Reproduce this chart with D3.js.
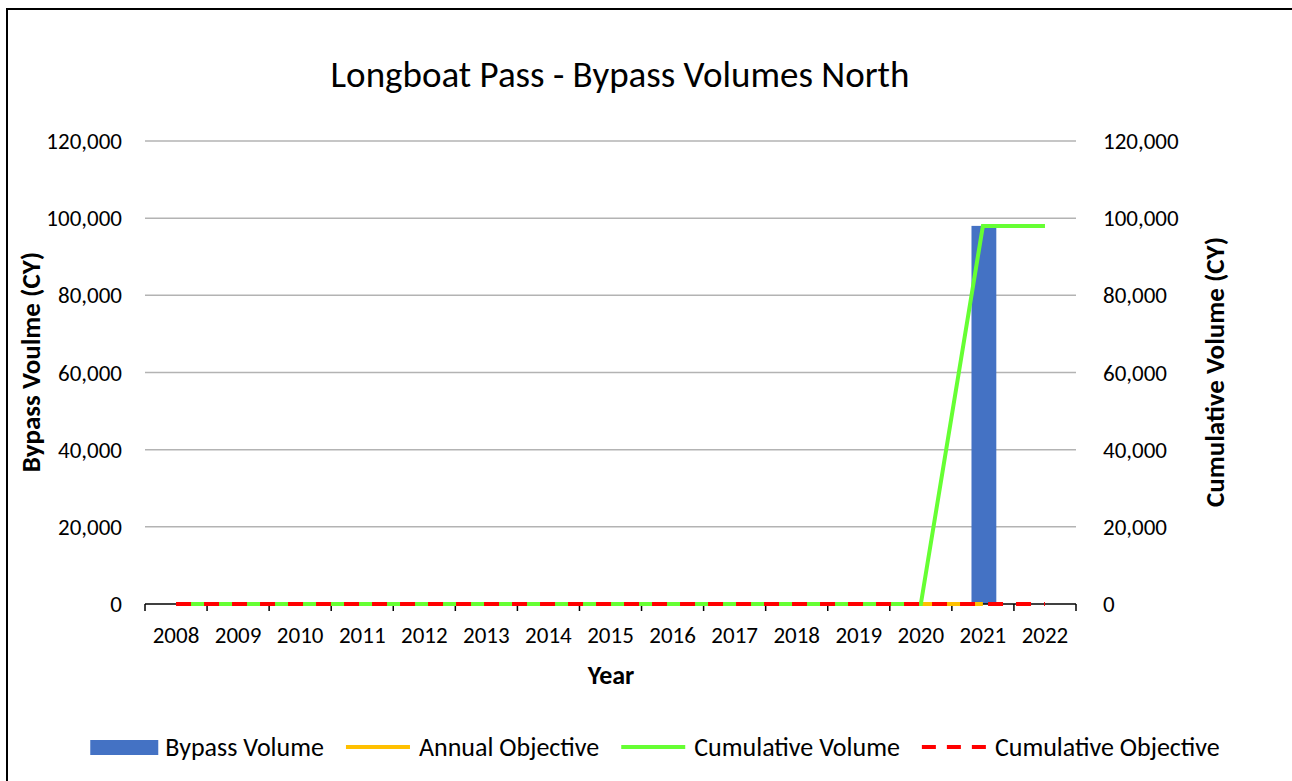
<!DOCTYPE html>
<html>
<head>
<meta charset="utf-8">
<script src="https://cdn.jsdelivr.net/npm/d3@7"></script>
<style>
  body { margin: 0; background: #fff; }
  svg { font-family: Carlito, Calibri, Lato, sans-serif; }
</style>
</head>
<body>
<svg id="chart"></svg>
<script>
// data
const years = ['2008','2009','2010','2011','2012','2013','2014','2015','2016','2017','2018','2019','2020','2021','2022'];
const bypassVolume = [0,0,0,0,0,0,0,0,0,0,0,0,0,98000,0];
const annualObjective = [0,0,0,0,0,0,0,0,0,0,0,0,0,0,null];
const cumulativeVolume = [0,0,0,0,0,0,0,0,0,0,0,0,0,98000,98000];
const cumulativeObjective = [0,0,0,0,0,0,0,0,0,0,0,0,0,0,0];
const yTicks = [0,20000,40000,60000,80000,100000,120000];

const width = 1292, height = 781;
const margin = { top: 141, right: 216, bottom: 177, left: 145 };

const svg = d3.select('#chart').attr('width', width).attr('height', height);

// outer frame
svg.append('rect')
  .attr('x', 7).attr('y', 9).attr('width', 1320).attr('height', 820)
  .attr('fill', 'none').attr('stroke', '#000').attr('stroke-width', 2);

const x = d3.scaleBand()
  .domain(years)
  .range([margin.left, width - margin.right])
  .paddingInner(0.6).paddingOuter(0.3);

const xCat = d3.scaleBand().domain(years).range([margin.left, width - margin.right]);

const yLeft = d3.scaleLinear().domain([0, 120000]).range([height - margin.bottom, margin.top]);
const yRight = d3.scaleLinear().domain([0, 120000]).range([height - margin.bottom, margin.top]);

const fmt = d3.format(',');

// gridlines
svg.append('g')
  .selectAll('line')
  .data(yTicks.filter(d => d > 0))
  .enter()
  .append('line')
  .attr('x1', margin.left).attr('x2', width - margin.right)
  .attr('y1', d => yLeft(d)).attr('y2', d => yLeft(d))
  .attr('stroke', '#b3b3b3').attr('stroke-width', 1.5);

// left axis labels
svg.append('g')
  .selectAll('text')
  .data(yTicks)
  .enter()
  .append('text')
  .attr('x', margin.left - 23)
  .attr('y', d => yLeft(d))
  .attr('dy', '0.35em')
  .attr('text-anchor', 'end')
  .attr('font-size', 23)
  .attr('fill', '#000')
  .text(d => fmt(d));

// right axis labels
svg.append('g')
  .selectAll('text')
  .data(yTicks)
  .enter()
  .append('text')
  .attr('x', width - margin.right + 27)
  .attr('y', d => yRight(d))
  .attr('dy', '0.35em')
  .attr('text-anchor', 'start')
  .attr('font-size', 23)
  .attr('fill', '#000')
  .text(d => fmt(d));

// bars
const bars = years.map((y, i) => ({ year: y, v: bypassVolume[i] }));
svg.append('g')
  .selectAll('rect')
  .data(bars.filter(d => d.v > 0))
  .enter()
  .append('rect')
  .attr('x', d => x(d.year) + 1)
  .attr('width', x.bandwidth())
  .attr('y', d => yLeft(d.v))
  .attr('height', d => yLeft(0) - yLeft(d.v))
  .attr('fill', '#4472c4');

// x axis line with ticks at category boundaries
const y0 = yLeft(0);
svg.append('line')
  .attr('x1', margin.left).attr('x2', width - margin.right)
  .attr('y1', y0).attr('y2', y0)
  .attr('stroke', '#000').attr('stroke-width', 1.5);

const boundaries = years.map(y => xCat(y)).concat([width - margin.right]);
svg.append('g')
  .selectAll('line')
  .data(boundaries)
  .enter()
  .append('line')
  .attr('x1', d => d).attr('x2', d => d)
  .attr('y1', y0).attr('y2', y0 + 7)
  .attr('stroke', '#000').attr('stroke-width', 1.5);

svg.append('g')
  .selectAll('text')
  .data(years)
  .enter()
  .append('text')
  .attr('x', d => xCat(d) + xCat.bandwidth() / 2)
  .attr('y', y0 + 31)
  .attr('dy', '0.35em')
  .attr('text-anchor', 'middle')
  .attr('font-size', 23)
  .attr('fill', '#000')
  .text(d => d);

// lines
const cx = d => xCat(d) + xCat.bandwidth() / 2;
const lineGen = scale => d3.line()
  .defined(d => d.v !== null)
  .x(d => cx(d.year))
  .y(d => scale(d.v));

const series = [
  { name: 'Annual Objective', values: annualObjective, color: '#ffc000', dash: null, scale: yLeft },
  { name: 'Cumulative Volume', values: cumulativeVolume, color: '#66ff33', dash: null, scale: yRight },
  { name: 'Cumulative Objective', values: cumulativeObjective, color: '#ff0000', dash: '15,13', scale: yRight }
];

series.forEach(s => {
  svg.append('path')
    .datum(years.map((y, i) => ({ year: y, v: s.values[i] })))
    .attr('fill', 'none')
    .attr('stroke', s.color)
    .attr('stroke-width', 4)
    .attr('stroke-dasharray', s.dash)
    .attr('d', lineGen(s.scale));
});

// titles
svg.append('text')
  .attr('x', 620).attr('y', 74)
  .attr('dy', '0.35em')
  .attr('text-anchor', 'middle')
  .attr('font-size', 37)
  .attr('fill', '#000')
  .text('Longboat Pass - Bypass Volumes North');

svg.append('text')
  .attr('x', 611)
  .attr('y', 675)
  .attr('dy', '0.35em')
  .attr('text-anchor', 'middle')
  .attr('font-size', 26)
  .attr('font-weight', 'bold')
  .text('Year');

svg.append('text')
  .attr('transform', 'translate(31,362) rotate(-90)')
  .attr('dy', '0.35em')
  .attr('text-anchor', 'middle')
  .attr('font-size', 27)
  .attr('font-weight', 'bold')
  .text('Bypass Voulme (CY)');

svg.append('text')
  .attr('transform', 'translate(1215,372) rotate(-90)')
  .attr('dy', '0.35em')
  .attr('text-anchor', 'middle')
  .attr('font-size', 27)
  .attr('font-weight', 'bold')
  .text('Cumulative Volume (CY)');

// legend
const legendItems = [
  { name: 'Bypass Volume', type: 'bar', color: '#4472c4' },
  { name: 'Annual Objective', type: 'line', color: '#ffc000' },
  { name: 'Cumulative Volume', type: 'line', color: '#66ff33' },
  { name: 'Cumulative Objective', type: 'dash', color: '#ff0000' }
];

const legend = svg.append('g');
let lx = 0;
const ly = 747;
const itemGap = 20;
legendItems.forEach((it, i) => {
  const g = legend.append('g').attr('transform', `translate(${lx},0)`);
  if (it.type === 'bar') {
    g.append('rect').attr('x', 0).attr('y', ly - 7).attr('width', 68).attr('height', 15).attr('fill', it.color);
  } else {
    g.append('line')
      .attr('x1', 2).attr('x2', 66).attr('y1', ly).attr('y2', ly)
      .attr('stroke', it.color).attr('stroke-width', 4)
      .attr('stroke-dasharray', it.type === 'dash' ? '14,11' : null);
  }
  const t = g.append('text')
    .attr('x', 75).attr('y', ly)
    .attr('dy', '0.35em')
    .attr('font-size', 26)
    .attr('fill', '#000')
    .text(it.name);
  lx += 75 + t.node().getComputedTextLength() + itemGap;
});
const legendW = lx - itemGap;
legend.attr('transform', `translate(${655 - legendW / 2},0)`);
</script>
</body>
</html>
